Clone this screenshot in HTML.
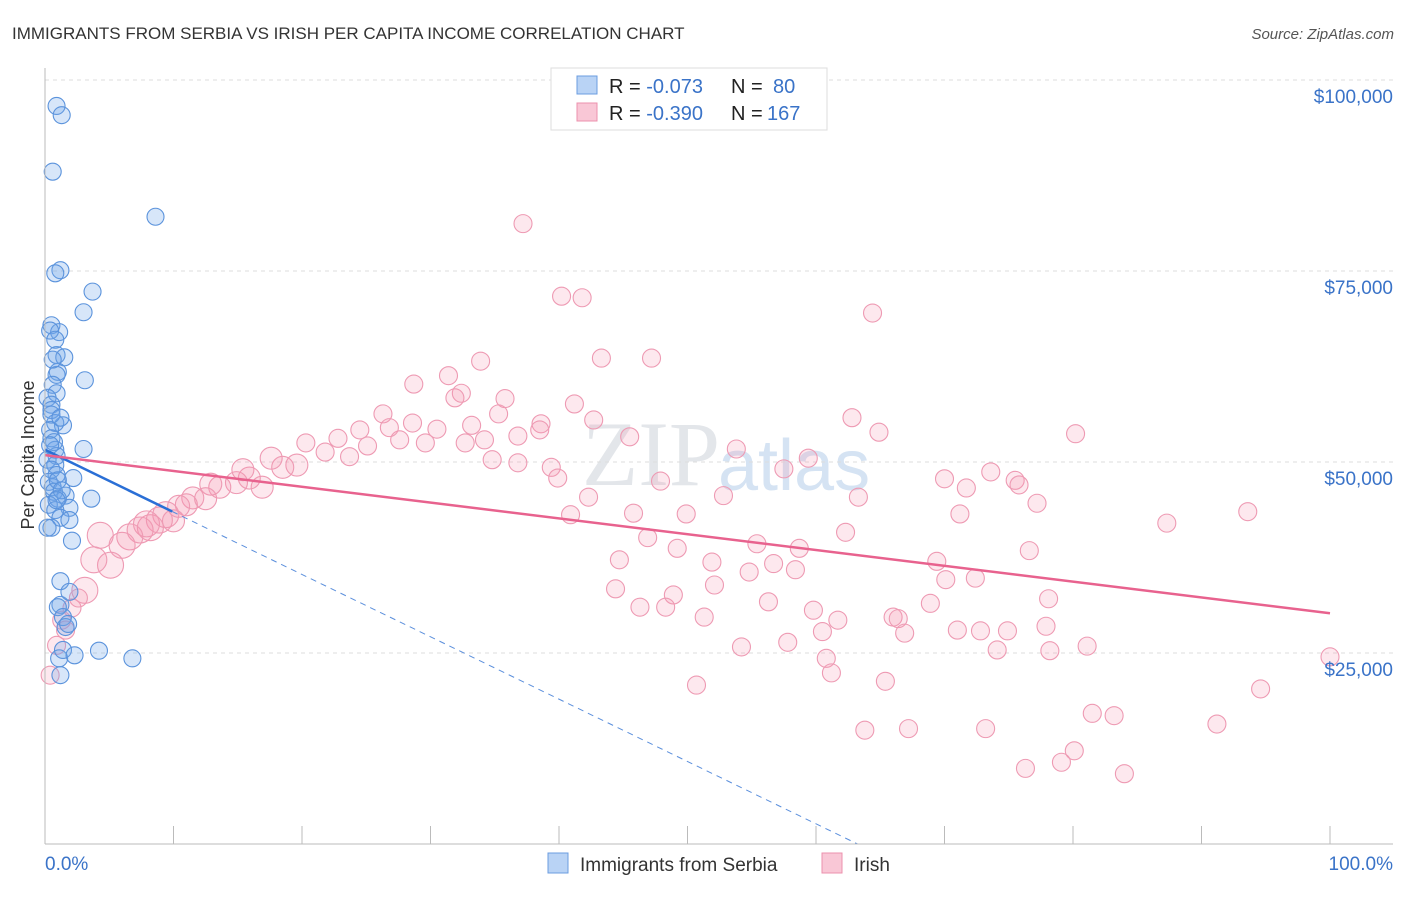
<!DOCTYPE html>
<html><head><meta charset="utf-8"><style>
body{margin:0;background:#fff;font-family:"Liberation Sans",sans-serif;}
</style></head><body>
<svg id="chart" width="1406" height="892" xmlns="http://www.w3.org/2000/svg" font-family="Liberation Sans, sans-serif">
<text x="12" y="39" font-size="17" fill="#333">IMMIGRANTS FROM SERBIA VS IRISH PER CAPITA INCOME CORRELATION CHART</text>
<text x="1394" y="39" font-size="15" fill="#555" font-style="italic" text-anchor="end">Source: ZipAtlas.com</text>
<text x="720" y="485" font-size="92" fill="#e3e6ea" text-anchor="end" font-family="Liberation Serif, serif">ZIP</text>
<text x="718" y="490" font-size="72" fill="#d5e3f3">atlas</text>
<g id="grid"></g><g id="marks"></g><g id="axes"></g>
<text transform="translate(34,455) rotate(-90)" font-size="18" fill="#333" text-anchor="middle">Per Capita Income</text>
<g>
<rect x="551" y="68" width="276" height="62" fill="#fff" stroke="#ddd"/>
<rect x="577" y="76" width="20" height="18" fill="#b9d3f5" stroke="#6b9de0"/>
<rect x="577" y="103" width="20" height="18" fill="#f9c7d6" stroke="#ec91ad"/>
<text x="609" y="93" font-size="20" fill="#222">R = <tspan fill="#3a73c8">-0.073</tspan><tspan x="731">N = </tspan><tspan x="773" fill="#3a73c8">80</tspan></text>
<text x="609" y="120" font-size="20" fill="#222">R = <tspan fill="#3a73c8">-0.390</tspan><tspan x="731">N = </tspan><tspan x="767" fill="#3a73c8">167</tspan></text>
</g>
<g>
<rect x="548" y="853" width="20" height="20" fill="#b9d3f5" stroke="#6b9de0"/>
<text x="580" y="871" font-size="19" fill="#333">Immigrants from Serbia</text>
<rect x="822" y="853" width="20" height="20" fill="#f9c7d6" stroke="#ec91ad"/>
<text x="854" y="871" font-size="19" fill="#333">Irish</text>
</g>
</svg>
<script>
const yTicks=[25000,50000,75000,100000];
const yTickLabels=["$25,000","$50,000","$75,000","$100,000"];
const xTickPcts=[0,10,20,30,40,50,60,70,80,90,100];
const blueX=[0.9,1.3,0.6,8.6,1.2,0.8,3.7,3.0,0.5,1.1,0.4,0.9,1.5,1.0,0.9,3.1,0.6,0.9,0.2,0.5,0.5,1.4,0.8,0.4,0.5,3.0,0.8,0.9,0.2,0.8,0.5,0.9,2.2,0.3,0.6,0.7,1.6,3.6,1.0,0.3,1.9,0.8,1.2,1.9,0.5,2.1,1.2,1.2,1.9,1.0,1.4,1.6,1.8,1.1,1.4,2.3,4.2,6.8,1.2,0.2,0.7,0.4,1.0,1.3,0.9,0.5,1.2,0.6,0.8];
const blueY=[96.6,95.4,88.0,82.1,75.1,74.7,72.3,69.6,67.9,67.0,67.2,64.0,63.7,61.8,61.4,60.7,60.1,59.0,58.4,57.5,56.8,54.8,55.1,54.2,53.1,51.7,51.6,50.8,50.3,49.6,49.0,48.3,47.9,47.4,46.7,46.1,45.6,45.2,45.2,44.4,44.0,43.7,42.7,42.4,41.4,39.7,34.4,31.3,33.0,31.0,29.7,28.4,28.8,24.3,25.4,24.7,25.3,24.3,22.1,41.4,52.6,52.2,47.6,46.3,45.0,56.2,55.8,63.4,66.0];
const pinkX=[37.2,40.2,41.8,64.4,43.3,47.2,33.9,31.4,28.7,32.4,31.9,35.8,26.3,35.3,41.2,42.7,62.8,64.9,80.2,45.5,53.8,59.4,28.6,30.5,33.2,38.6,36.8,34.2,38.5,27.6,29.6,24.5,25.1,22.8,20.3,21.8,23.7,26.8,32.7,36.8,34.8,39.4,39.9,47.9,57.5,70.0,73.6,75.5,75.8,71.7,63.3,52.8,42.3,45.8,40.9,49.9,71.2,77.2,87.3,93.6,62.3,46.9,44.7,49.2,51.9,55.4,58.7,56.7,58.4,54.8,52.1,69.4,72.4,70.1,76.6,44.4,48.9,46.3,48.3,51.3,56.3,59.8,61.7,66.0,66.4,68.9,66.9,60.5,71.0,72.8,74.9,77.9,81.1,74.1,78.2,54.2,57.8,60.8,61.2,100.0,94.6,50.7,65.4,63.8,67.2,73.2,91.2,81.5,83.2,80.1,79.1,76.3,84.0,78.1,19.6,18.5,17.6,16.9,15.9,14.9,13.6,15.4,12.9,11.5,11.0,10.4,12.5,9.4,8.9,10.0,8.2,7.4,7.9,6.6,6.0,4.3,5.1,3.8,3.1,2.1,1.3,0.9,0.4,1.6,2.6];
const pinkY=[81.2,71.7,71.5,69.5,63.6,63.6,63.2,61.3,60.2,59.0,58.4,58.3,56.3,56.3,57.6,55.5,55.8,53.9,53.7,53.3,51.7,50.5,55.1,54.3,54.8,55.0,53.4,52.9,54.2,52.9,52.5,54.2,52.1,53.1,52.5,51.3,50.7,54.5,52.5,49.9,50.3,49.3,47.9,47.5,49.1,47.8,48.7,47.6,47.0,46.6,45.4,45.6,45.4,43.3,43.1,43.2,43.2,44.6,42.0,43.5,40.8,40.1,37.2,38.7,36.9,39.3,38.7,36.7,35.9,35.6,33.9,37.0,34.8,34.6,38.4,33.4,32.6,31.0,31.0,29.7,31.7,30.6,29.3,29.7,29.5,31.5,27.6,27.8,28.0,27.9,27.9,28.5,25.9,25.4,25.3,25.8,26.4,24.3,22.4,24.5,20.3,20.8,21.3,14.9,15.1,15.1,15.7,17.1,16.8,12.2,10.7,9.9,9.2,32.1,49.6,49.3,50.5,46.7,47.9,47.3,46.7,49.0,47.1,45.3,44.4,44.2,45.2,43.1,42.4,42.3,41.4,41.1,41.9,40.2,39.1,40.4,36.5,37.2,33.2,30.9,29.3,26.0,22.1,28.0,32.2];
const blueTrend=[51.6,-0.816];
const blueSolidEnd=9.9;
const pinkTrend=[50.9,-0.207];

const NS="http://www.w3.org/2000/svg";
const X=p=>45+p*12.85;
const Y=v=>844-v/25000*191;
function mk(tag,attrs,parent){const e=document.createElementNS(NS,tag);for(const k in attrs)e.setAttribute(k,attrs[k]);parent.appendChild(e);return e;}
const grid=document.getElementById('grid'),marks=document.getElementById('marks'),axes=document.getElementById('axes');
let g=mk('line',{x1:45,x2:1393,y1:Y(100000),y2:Y(100000),stroke:'#ddd','stroke-dasharray':'4,4'},grid);


yTicks.forEach((t,i)=>{
 const l=mk('line',{x1:45,x2:1393,y1:Y(t),y2:Y(t),stroke:'#ddd','stroke-dasharray':'4,4'},grid);
 
 
 const tx=mk('text',{x:1393,y:Y(t)+23,'font-size':19,fill:'#3a73c8','text-anchor':'end'},axes);
 tx.textContent=yTickLabels[i];
 
 
});
let ax=mk('line',{x1:45,x2:45,y1:68,y2:844,stroke:'#bbb'},axes);


let xa=mk('line',{x1:45,x2:1393,y1:844,y2:844,stroke:'#bbb'},axes);


xTickPcts.forEach(p=>{
 const t=mk('line',{x1:X(p),x2:X(p),y1:826,y2:844,stroke:'#bbb'},axes);
 
 
});
let xl=mk('text',{x:45,y:870,'font-size':19,fill:'#3a73c8'},axes);xl.textContent='0.0%';


let xr=mk('text',{x:1393,y:870,'font-size':19,fill:'#3a73c8','text-anchor':'end'},axes);xr.textContent='100.0%';



pinkX.forEach((p,i)=>{
 const r=p<3?9:p<10?13:p<20?11:9;
 const c=mk('circle',{cx:X(p),cy:Y(pinkY[i]*1000),r:r,fill:'rgba(244,150,178,0.22)',stroke:'#ee9ab3','stroke-width':1.1},marks);
 
 
});
blueX.forEach((p,i)=>{
 const c=mk('circle',{cx:X(p),cy:Y(blueY[i]*1000),r:8.5,fill:'rgba(110,165,235,0.28)',stroke:'#5b93dc','stroke-width':1.1},marks);
 
 
});
const bz=-blueTrend[0]/blueTrend[1];
let bd=mk('line',{x1:X(blueSolidEnd),y1:Y((blueTrend[0]+blueTrend[1]*blueSolidEnd)*1000),x2:X(bz),y2:Y(0),stroke:'#5b8fdc','stroke-width':1,'stroke-dasharray':'6,5'},marks);


let bs=mk('line',{x1:X(0),y1:Y(blueTrend[0]*1000),x2:X(blueSolidEnd),y2:Y((blueTrend[0]+blueTrend[1]*blueSolidEnd)*1000),stroke:'#2a6fd6','stroke-width':2.5},marks);


let pl=mk('line',{x1:X(0),y1:Y(pinkTrend[0]*1000),x2:X(100),y2:Y((pinkTrend[0]+pinkTrend[1]*100)*1000),stroke:'#e8628e','stroke-width':2.5},marks);


</script>
</body></html>
